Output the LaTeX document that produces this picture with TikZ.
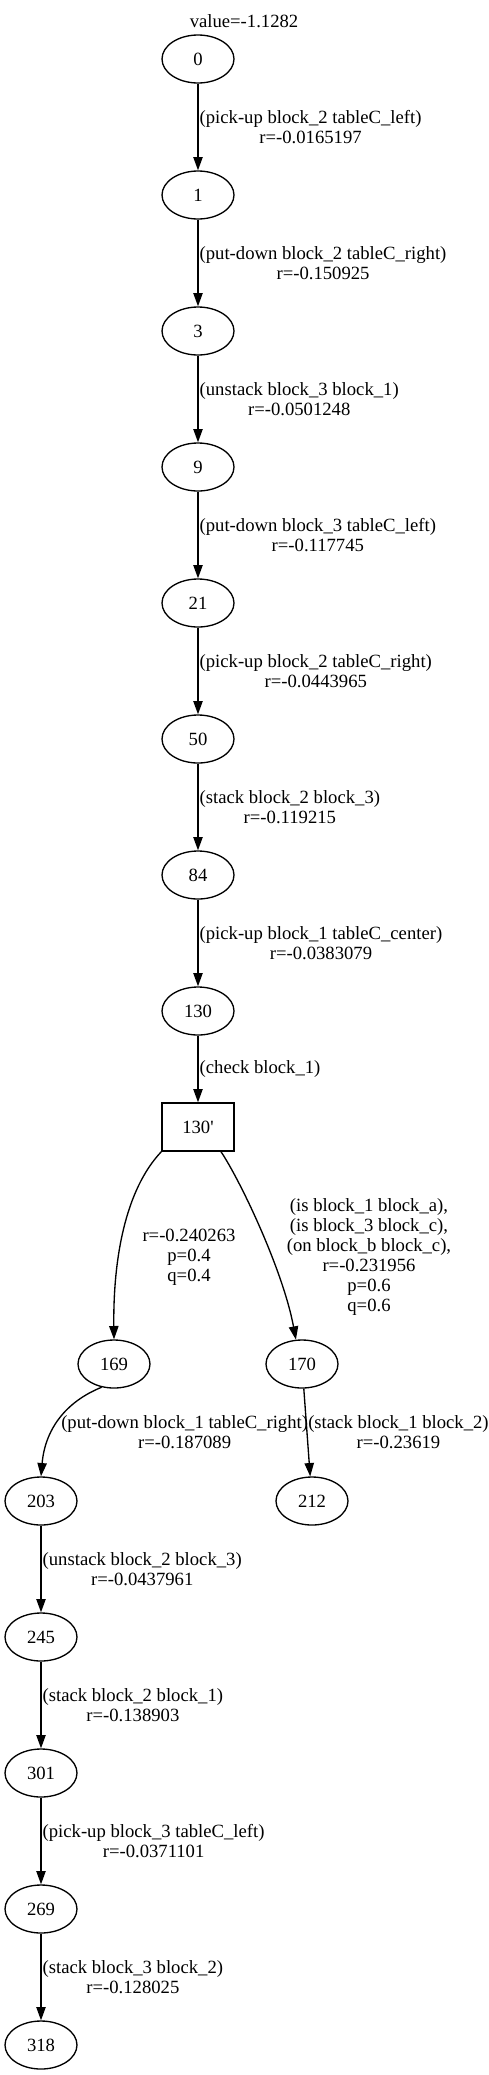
\documentclass[tikz,border=0pt]{standalone}
\usepackage{fontspec}
\setmainfont{Liberation Serif}[Ligatures=TeXOff]
\usetikzlibrary{arrows.meta,shapes.geometric}
\begin{document}
\begin{tikzpicture}[x=0.75pt,y=-0.75pt,
  every node/.style={font=\fontsize{14}{15}\selectfont},
  st/.style={draw,ellipse,line width=1pt,minimum width=54pt,minimum height=36pt,inner sep=0pt},
  bx/.style={draw,rectangle,line width=1pt,minimum width=54pt,minimum height=36pt,inner sep=0pt},
  ed/.style={draw,line width=1pt,-{Triangle[length=10pt,width=7pt]}},
  lbl/.style={anchor=west,align=center,inner sep=0pt,xshift=0.75pt},
  clbl/.style={align=center,inner sep=0pt}]
\useasboundingbox (0,0) rectangle (489,2075);
\node[clbl] (title) at (244,21) {value=-1.1282};
\node[st] (n0) at (198,59) {0};
\node[st] (n1) at (198,195) {1};
\node[st] (n3) at (198,331) {3};
\node[st] (n9) at (198,467) {9};
\node[st] (n21) at (198,603) {21};
\node[st] (n50) at (198,739) {50};
\node[st] (n84) at (198,875) {84};
\node[st] (n130) at (198,1011) {130};
\node[bx] (n130p) at (198,1127) {130'};
\node[st] (n169) at (114,1364) {169};
\node[st] (n170) at (302,1364) {170};
\node[st] (n203) at (41,1501) {203};
\node[st] (n212) at (312,1501) {212};
\node[st] (n245) at (41,1637) {245};
\node[st] (n301) at (41,1773) {301};
\node[st] (n269) at (41,1909) {269};
\node[st] (n318) at (41,2045) {318};

\path[ed] (n0) -- node[lbl] {(pick-up block\_2 tableC\_left)\\r=-0.0165197} (n1);
\path[ed] (n1) -- node[lbl] {(put-down block\_2 tableC\_right)\\r=-0.150925} (n3);
\path[ed] (n3) -- node[lbl] {(unstack block\_3 block\_1)\\r=-0.0501248} (n9);
\path[ed] (n9) -- node[lbl] {(put-down block\_3 tableC\_left)\\r=-0.117745} (n21);
\path[ed] (n21) -- node[lbl] {(pick-up block\_2 tableC\_right)\\r=-0.0443965} (n50);
\path[ed] (n50) -- node[lbl] {(stack block\_2 block\_3)\\r=-0.119215} (n84);
\path[ed] (n84) -- node[lbl] {(pick-up block\_1 tableC\_center)\\r=-0.0383079} (n130);
\path[ed] (n130) -- node[lbl] {(check block\_1)} (n130p);

\path[ed] (n130p.south west) .. controls (125,1190) and (113,1260) .. (n169.north);
\node[clbl] (l169) at (189,1257) {r=-0.240263\\p=0.4\\q=0.4};
\path[ed] (n130p.-47.5) .. controls (240,1180) and (283,1270) .. (n170.104);
\node[clbl] (l170) at (369,1257) {(is block\_1 block\_a),\\(is block\_3 block\_c),\\(on block\_b block\_c),\\r=-0.231956\\p=0.6\\q=0.6};

\path[ed] (n169.-118) .. controls (65,1402) and (45,1430) .. (n203.north);
\node[lbl,anchor=west] (l203) at (60,1432) {(put-down block\_1 tableC\_right)\\r=-0.187089};
\path[ed] (n170) -- (n212);
\node[lbl,anchor=west] (l212) at (307,1432) {(stack block\_1 block\_2)\\r=-0.23619};

\path[ed] (n203) -- node[lbl] {(unstack block\_2 block\_3)\\r=-0.0437961} (n245);
\path[ed] (n245) -- node[lbl] {(stack block\_2 block\_1)\\r=-0.138903} (n301);
\path[ed] (n301) -- node[lbl] {(pick-up block\_3 tableC\_left)\\r=-0.0371101} (n269);
\path[ed] (n269) -- node[lbl] {(stack block\_3 block\_2)\\r=-0.128025} (n318);
\end{tikzpicture}
\end{document}
